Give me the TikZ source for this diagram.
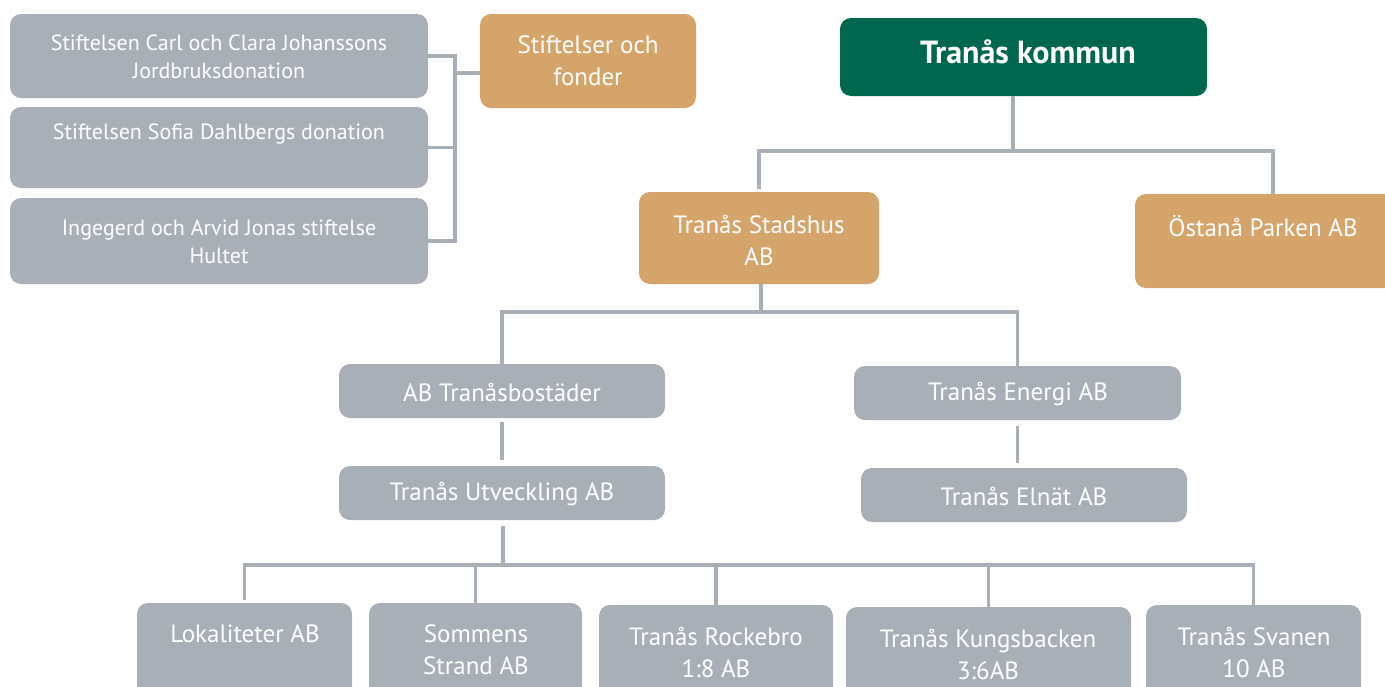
\documentclass[tikz,border=0pt]{standalone}
\usepackage{fontspec}
\setmainfont{PT Sans}
\definecolor{boxgray}{HTML}{A8AFB6}
\definecolor{boxorange}{HTML}{D5A46A}
\definecolor{boxgreen}{HTML}{00674F}
\definecolor{linegray}{HTML}{A8AFB6}
\begin{document}
\begin{tikzpicture}[x=1pt,y=-1pt,
  box/.style={rounded corners=11pt, inner sep=0pt, draw=none},
  gbox/.style={box, fill=boxgray},
  obox/.style={box, fill=boxorange},
  kbox/.style={box, fill=boxgreen},
  txts/.style={text=white, align=center, inner sep=0pt, font=\fontsize{22}{28}\selectfont},
  txtm/.style={text=white, align=center, inner sep=0pt, font=\fontsize{25}{32}\selectfont},
  txtb/.style={text=white, align=center, inner sep=0pt, font=\fontsize{32}{34}\selectfont\bfseries},
  conn/.style={draw=linegray, line width=3.5pt}]
\useasboundingbox (0,0) rectangle (1385,686);
% boxes
\node[gbox, minimum width=418pt, minimum height=84pt] (carl) at (219,56) {};
\node[gbox, minimum width=418pt, minimum height=81pt] (sofia) at (219,147.5) {};
\node[gbox, minimum width=418pt, minimum height=86pt] (ing) at (219,241) {};
\node[obox, minimum width=216pt, minimum height=94pt] (stift) at (588,61) {};
\node[kbox, minimum width=367pt, minimum height=78pt] (kommun) at (1023.5,57) {};
\node[obox, minimum width=240pt, minimum height=92pt] (stadshus) at (759,238) {};
\node[obox, minimum width=276pt, minimum height=94pt] (ostana) at (1273,241) {};
\node[gbox, minimum width=326pt, minimum height=54pt] (bost) at (502,391) {};
\node[gbox, minimum width=327pt, minimum height=54pt] (energi) at (1017.5,393) {};
\node[gbox, minimum width=326pt, minimum height=54pt] (utv) at (502,493) {};
\node[gbox, minimum width=326pt, minimum height=54pt] (elnat) at (1024,495) {};
\node[gbox, minimum width=215pt, minimum height=100pt] (lok) at (244.5,653) {};
\node[gbox, minimum width=213pt, minimum height=100pt] (som) at (475.5,653) {};
\node[gbox, minimum width=234pt, minimum height=100pt] (rock) at (716,655) {};
\node[gbox, minimum width=285pt, minimum height=100pt] (kung) at (988.5,657) {};
\node[gbox, minimum width=215pt, minimum height=100pt] (svan) at (1253.5,655) {};
% texts
\node[txts] (tcarl) at (219,57) {Stiftelsen Carl och Clara Johanssons\\Jordbruksdonation};
\node[txts] (tsofia) at (219,134) {Stiftelsen Sofia Dahlbergs donation};
\node[txts] (ting) at (219,242) {Ingegerd och Arvid Jonas stiftelse\\Hultet};
\node[txtm] (tstift) at (588,61) {Stiftelser och\\fonder};
\node[txtb] (tkommun) at (1028,52) {Tranås kommun};
\node[txtm] (tstadshus) at (759,240) {Tranås Stadshus\\AB};
\node[txtm] (tostana) at (1263,226) {Östanå Parken AB};
\node[txtm] (tbost) at (502,392) {AB Tranåsbostäder};
\node[txtm] (tenergi) at (1018,394) {Tranås Energi AB};
\node[txtm] (tutv) at (502,494) {Tranås Utveckling AB};
\node[txtm] (telnat) at (1024,496) {Tranås Elnät AB};
\node[txtm] (tlok) at (245,634) {Lokaliteter AB};
\node[txtm] (tsom) at (476,650) {Sommens\\Strand AB};
\node[txtm] (trock) at (716,652) {Tranås Rockebro\\1:8 AB};
\node[txtm] (tkung) at (988,654) {Tranås Kungsbacken\\3:6AB};
\node[txtm] (tsvan) at (1254,652) {Tranås Svanen\\10 AB};
% junctions
\coordinate (sbus) at (455,73);
\coordinate (kbus) at (1013,151);
\coordinate (hbus) at (761,312);
\coordinate (ubus) at (503,565);
% connectors
\draw[conn] (carl.east) -| (sbus) |- (ing.east);
\draw[conn] (sofia.east) -- (sofia.east -| sbus);
\draw[conn] (sbus) -- (stift.west |- sbus);
\draw[conn] (kommun.south -| kbus) -- (kbus);
\draw[conn, shorten <=3pt] (stadshus.north) |- (kbus) -| (ostana.north);
\draw[conn] (stadshus.south -| hbus) -- (hbus);
\draw[conn] (bost.north) |- (hbus) -| (energi.north);
\draw[conn, shorten <=4pt, shorten >=6pt] (bost.south) -- (bost.south |- utv.north);
\draw[conn, shorten <=6pt, shorten >=5pt] (energi.south) -- (energi.south |- elnat.north);
\draw[conn, shorten <=6pt] (utv.south -| ubus) -- (ubus);
\draw[conn, shorten <=3pt] (lok.north) |- (ubus) -| (svan.north);
\draw[conn] (som.north) -- (som.north |- ubus);
\draw[conn] (rock.north) -- (rock.north |- ubus);
\draw[conn] (kung.north) -- (kung.north |- ubus);
\end{tikzpicture}
\end{document}
